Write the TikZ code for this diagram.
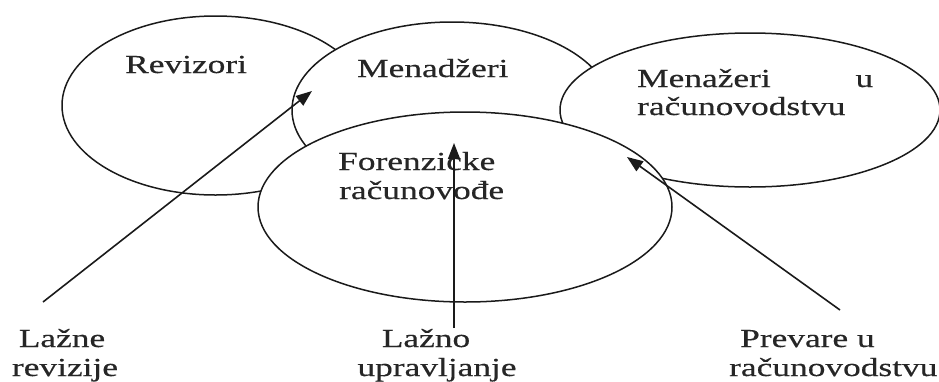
\documentclass[tikz,border=0pt]{standalone}
\usepackage{fontspec}
\setmainfont{Liberation Serif}[FakeStretch=1.36,FakeBold=0.4]
\usetikzlibrary{shapes.geometric,arrows.meta}
\definecolor{ink}{HTML}{1A1A1A}
\definecolor{txt}{HTML}{262626}
\tikzset{
  ell/.style={ellipse, draw=ink, line width=1.5pt, fill=white, inner sep=0pt, outer sep=0pt},
  lbl/.style={text=txt, inner sep=0pt, font=\fontsize{26}{29}\selectfont},
  arr/.style={draw=ink, line width=1.6pt, -{Triangle[length=16pt,width=12pt]}}
}
\begin{document}
\begin{tikzpicture}[x=1pt,y=-1pt]
\useasboundingbox (0,0) rectangle (939,381);
% ellipses (drawn back to front)
\node[ell, minimum width=307pt, minimum height=179pt] (rev) at (215.5,105.5) {};
\node[ell, minimum width=320pt, minimum height=176pt] (men) at (452,110) {};
\node[ell, minimum width=380pt, minimum height=154pt] (mur) at (750,110) {};
\node[ell, minimum width=414pt, minimum height=190pt] (for) at (465,207) {};
% texts in ellipses
\node[lbl, anchor=base west] (trev) at (125,73) {Revizori};
\node[lbl, anchor=base west] (tmen) at (357,77) {Menadžeri};
\node[lbl, anchor=base west] (tmur1) at (637,87) {\makebox[236pt][l]{Menažeri\hfill u}};
\node[lbl, anchor=base west] (tmur2) at (637,115) {računovodstvu};
\node[lbl, anchor=base west] (tfor1) at (338,170) {Forenzicke};
\node[lbl, anchor=base west] (tfor2) at (339,199) {računovođe};
% bottom labels
\node[lbl, anchor=base] (la1) at (62,347) {Lažne};
\node[lbl, anchor=base] (la2) at (65,376) {revizije};
\node[lbl, anchor=base] (lb1) at (426,347) {Lažno};
\node[lbl, anchor=base] (lb2) at (437,376) {upravljanje};
\node[lbl, anchor=base west] (lc1) at (740,347) {Prevare u};
\node[lbl, anchor=base west] (lc2) at (729,376) {računovodstvu};
% arrow ends
\coordinate (a1s) at (43,302);
\coordinate (a1e) at (312,91);
\coordinate (a2s) at (454,328);
\coordinate (a2e) at (454,143);
\coordinate (a3s) at (840,310);
\coordinate (a3e) at (627,157);
\draw[arr] (a1s) -- (a1e);
\draw[arr] (a2s) -- (a2e);
\draw[arr] (a3s) -- (a3e);
\end{tikzpicture}
\end{document}
